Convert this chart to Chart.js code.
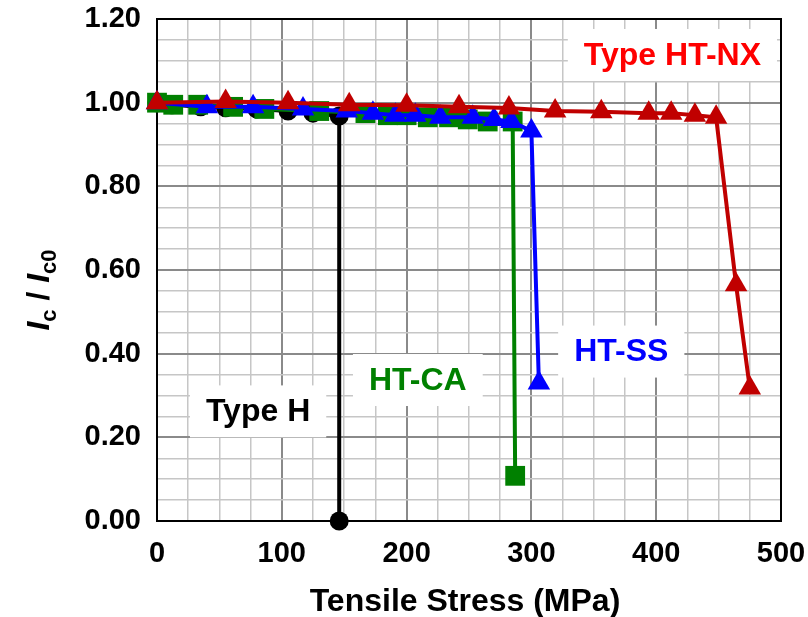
<!DOCTYPE html>
<html>
<head>
<meta charset="utf-8">
<script src="https://cdn.jsdelivr.net/npm/chart.js@4.4.0/dist/chart.umd.min.js"></script>
<style>
html,body{margin:0;padding:0;background:#fff;}
#wrap{width:808px;height:617px;position:relative;}
</style>
</head>
<body>
<div id="wrap"><canvas id="c"></canvas></div>
<script>
// ---- data ----
const nxStress   = [0, 55, 105, 154, 200, 242, 282, 319, 356, 394, 412, 431, 448, 464, 475];
const nxIc       = [1.000, 1.003, 1.000, 0.995, 0.994, 0.990, 0.987, 0.980, 0.978, 0.975, 0.975, 0.970, 0.965, 0.565, 0.318];
const ssStress   = [0, 40, 77, 117, 152, 173, 191, 207, 227, 253, 270, 284, 300, 306];
const ssIc       = [1.000, 0.990, 0.990, 0.985, 0.980, 0.975, 0.970, 0.970, 0.965, 0.965, 0.960, 0.955, 0.932, 0.330];
const caStress   = [0, 13, 33, 61, 86, 130, 167, 185, 200, 217, 234, 249, 265, 285, 287];
const caIc       = [1.000, 0.995, 0.995, 0.990, 0.985, 0.980, 0.975, 0.970, 0.970, 0.965, 0.965, 0.960, 0.955, 0.955, 0.108];
const hStress    = [0, 12, 35, 55, 80, 105, 125, 146, 146];
const hIc        = [1.000, 0.995, 0.990, 0.988, 0.985, 0.980, 0.975, 0.968, 0.000];
const xTickLabels = ['0', '100', '200', '300', '400', '500'];
const yTickLabels = ['0.00', '0.20', '0.40', '0.60', '0.80', '1.00', '1.20'];
const seriesNames = ['Type HT-NX', 'HT-SS', 'HT-CA', 'Type H'];
// label anchor positions in data units (stress, Ic/Ic0)
const labelStress = [413, 372, 209, 81];
const labelIc     = [1.114, 0.405, 0.337, 0.262];

const FONT = '"Liberation Sans", Arial, Helvetica, sans-serif';
const pts = (xs, ys) => xs.map((x, i) => ({x: x, y: ys[i]}));
const isMajor = (v, step) => Math.abs(v / step - Math.round(v / step)) < 1e-6;
const noPad = (s) => { s.paddingTop = 0; s.paddingBottom = 0; s.paddingLeft = 0; s.paddingRight = 0; };

const overlay = {
  id: 'overlay',
  beforeDatasetsDraw(chart) {
    const {ctx, chartArea: a, scales: {x, y}} = chart;
    ctx.save();
    ctx.strokeStyle = '#000';
    ctx.lineWidth = 2;
    ctx.strokeRect(a.left, a.top, a.right - a.left, a.bottom - a.top);
    const cols = ['#ff0000', '#0000ff', '#008000', '#000000'];
    ctx.font = 'bold 32px ' + FONT;
    ctx.textAlign = 'center';
    ctx.textBaseline = 'middle';
    seriesNames.forEach((s, i) => {
      const cx = x.getPixelForValue(labelStress[i]);
      const cy = y.getPixelForValue(labelIc[i]);
      const w = ctx.measureText(s).width;
      ctx.fillStyle = '#fff';
      ctx.fillRect(cx - w / 2 - 16, cy - 26, w + 32, 52);
      ctx.fillStyle = cols[i];
      ctx.fillText(s, cx, cy + 1);
    });
    ctx.restore();
  },
  afterDraw(chart) {
    const {ctx, chartArea: a} = chart;
    ctx.save();
    ctx.fillStyle = '#000';
    ctx.font = 'bold 32px ' + FONT;
    ctx.textAlign = 'center';
    ctx.textBaseline = 'alphabetic';
    ctx.fillText('Tensile Stress (MPa)', (a.left + a.right) / 2 - 4, 611);
    ctx.translate(38, (a.top + a.bottom) / 2 + 20);
    ctx.rotate(-Math.PI / 2);
    const big = 'bold 32px ' + FONT, ital = 'italic bold 32px ' + FONT, sub = 'bold 22px ' + FONT;
    const segs = [
      {t: 'I', f: ital, dy: 0}, {t: 'c', f: sub, dy: 7},
      {t: ' / ', f: big, dy: 0},
      {t: 'I', f: ital, dy: 0}, {t: 'c0', f: sub, dy: 7}
    ];
    let total = 0;
    segs.forEach(s => { ctx.font = s.f; s.w = ctx.measureText(s.t).width; total += s.w; });
    let px = -total / 2;
    ctx.textAlign = 'left';
    segs.forEach(s => { ctx.font = s.f; ctx.fillText(s.t, px, 11 + s.dy); px += s.w; });
    ctx.restore();
  }
};

const gridColor = (step) => (c) => isMajor(c.tick.value, step) ? '#8a8a8a' : '#c6c6c6';
const gridWidth = (step) => (c) => isMajor(c.tick.value, step) ? 2 : 1.5;

new Chart(document.getElementById('c'), {
  type: 'line',
  data: {
    datasets: [
      {label: seriesNames[0], data: pts(nxStress, nxIc), borderColor: '#c00000', backgroundColor: '#c00000',
       pointStyle: 'triangle', pointRadius: 13, borderWidth: 4, pointBorderWidth: 0},
      {label: seriesNames[1], data: pts(ssStress, ssIc), borderColor: '#0000ff', backgroundColor: '#0000ff',
       pointStyle: 'triangle', pointRadius: 13, borderWidth: 4, pointBorderWidth: 0},
      {label: seriesNames[2], data: pts(caStress, caIc), borderColor: '#008000', backgroundColor: '#008000',
       pointStyle: 'rect', pointRadius: 14, borderWidth: 4, pointBorderWidth: 0},
      {label: seriesNames[3], data: pts(hStress, hIc), borderColor: '#000000', backgroundColor: '#000000',
       pointStyle: 'circle', pointRadius: 9.5, borderWidth: 4, pointBorderWidth: 0}
    ]
  },
  options: {
    responsive: true,
    maintainAspectRatio: false,
    animation: false,
    clip: false,
    layout: {padding: {left: 0, top: 19, right: 27, bottom: 0}},
    plugins: {legend: {display: false}, tooltip: {enabled: false}},
    elements: {line: {tension: 0}},
    scales: {
      x: {
        type: 'linear', min: 0, max: 500,
        afterFit(s) { s.height = 96; noPad(s); },
        border: {display: false},
        grid: {color: gridColor(100), lineWidth: gridWidth(100), drawTicks: false},
        ticks: {
          stepSize: 25, autoSkip: false, maxRotation: 0, padding: 16,
          color: '#000', font: {family: FONT, size: 29, weight: 'bold'},
          callback: (v) => isMajor(v, 100) ? xTickLabels[Math.round(v / 100)] : ''
        }
      },
      y: {
        type: 'linear', min: 0, max: 1.2,
        afterFit(s) { s.width = 157; noPad(s); },
        border: {display: false},
        grid: {color: gridColor(0.2), lineWidth: gridWidth(0.2), drawTicks: false},
        ticks: {
          stepSize: 0.05, autoSkip: false, padding: 16,
          color: '#000', font: {family: FONT, size: 29, weight: 'bold'},
          callback: (v) => isMajor(v, 0.2) ? yTickLabels[Math.round(v / 0.2)] : ''
        }
      }
    }
  },
  plugins: [overlay]
});
</script>
</body>
</html>
